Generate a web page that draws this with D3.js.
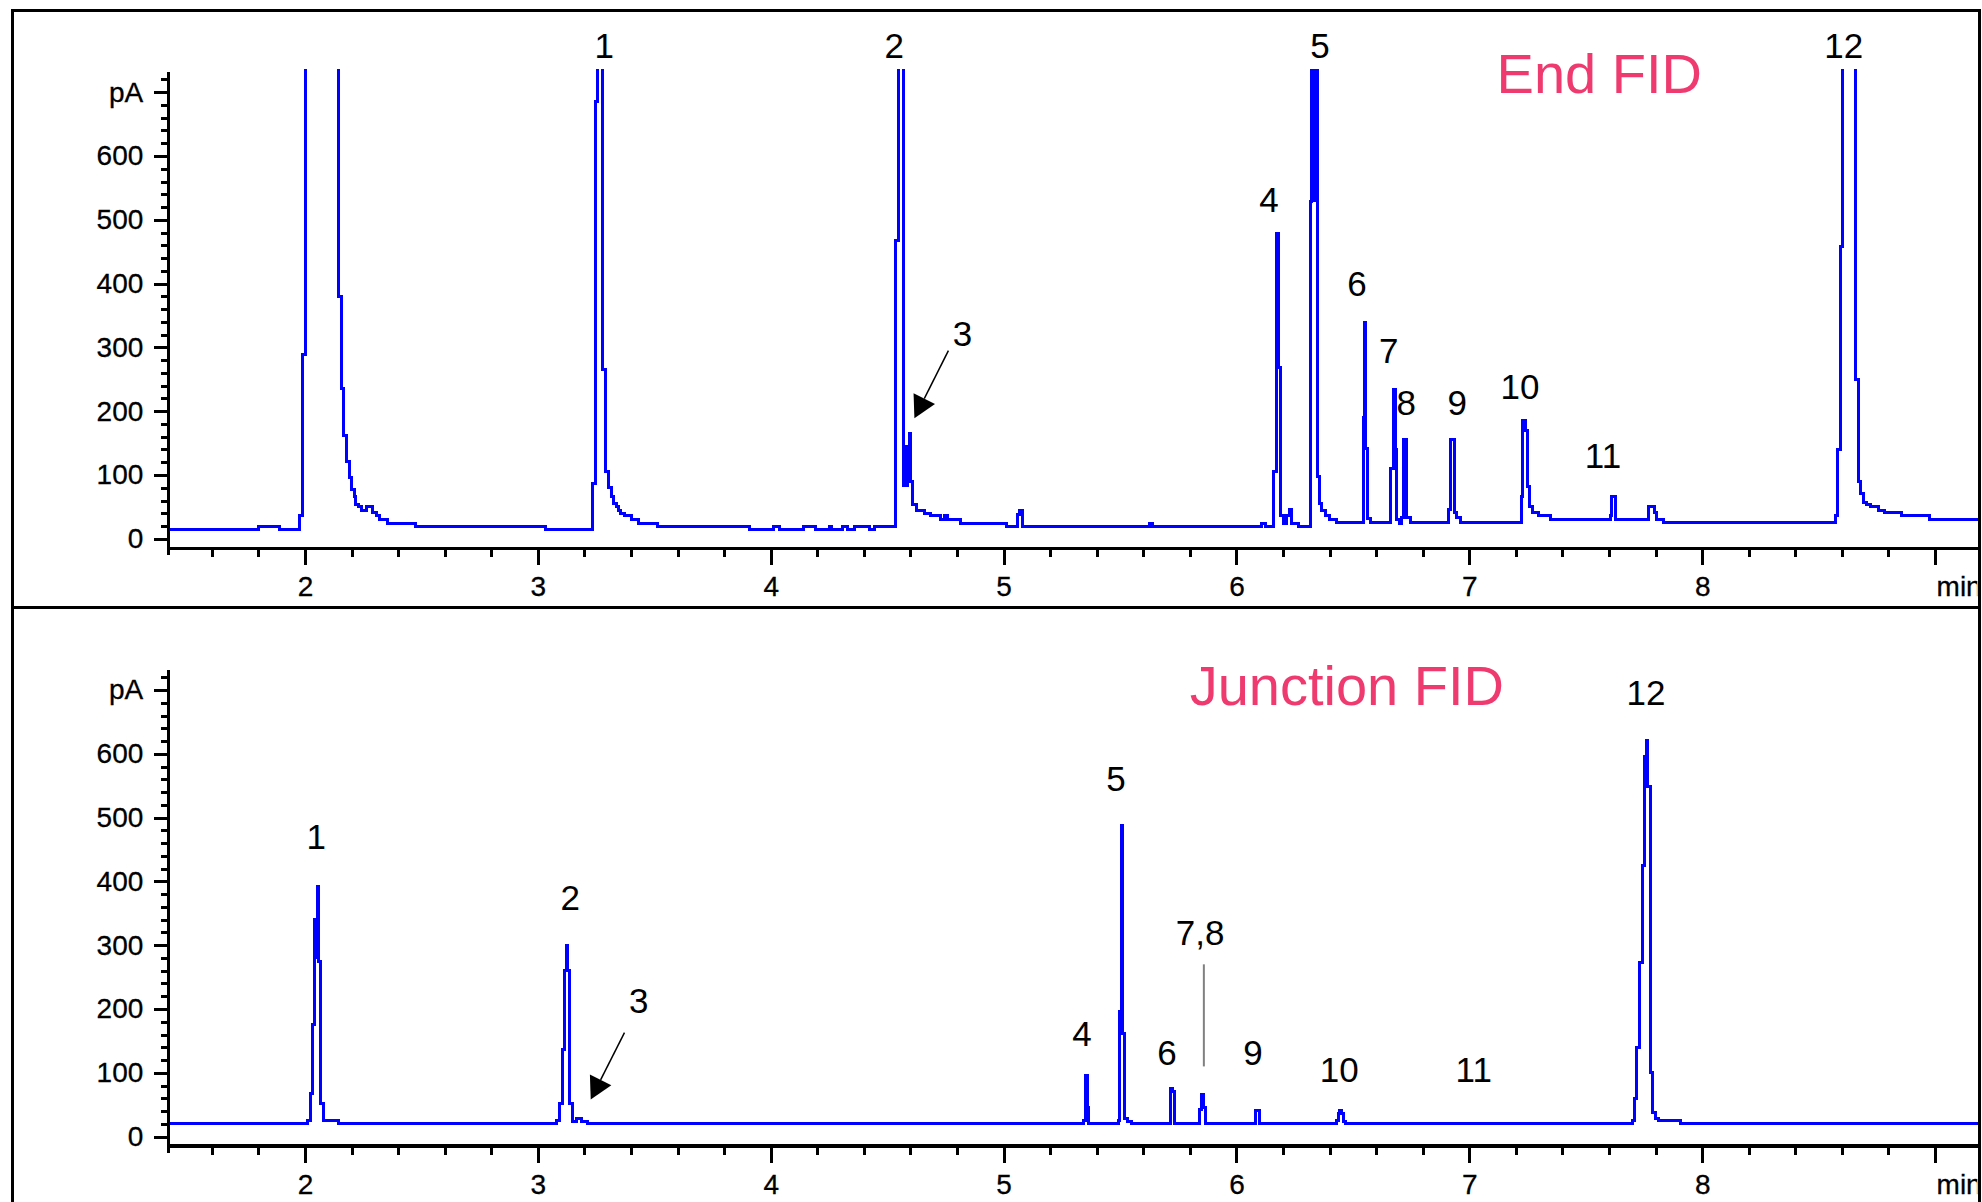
<!DOCTYPE html>
<html>
<head>
<meta charset="utf-8">
<script src="https://cdn.jsdelivr.net/npm/d3@7"></script>
<style>
  html, body { margin: 0; padding: 0; background: #fff; }
  svg { display: block; }
</style>
</head>
<body>
<svg id="chart" width="1982" height="1202"></svg>
<script>
// ---- End FID trace: retention time (min) at which each sampled level starts, and its signal (pA)
const endFidTime = [1.413,1.800,1.890,1.976,1.989,2.003,2.146,2.158,2.167,2.179,2.192,2.199,2.211,2.219,2.231,2.244,2.262,2.291,2.308,2.322,2.354,2.473,3.031,3.234,3.246,3.257,3.279,3.292,3.303,3.315,3.325,3.336,3.346,3.356,3.370,3.403,3.432,3.513,3.908,4.013,4.038,4.141,4.192,4.253,4.262,4.307,4.328,4.358,4.425,4.444,4.537,4.548,4.570,4.576,4.582,4.588,4.594,4.602,4.608,4.627,4.660,4.685,4.727,4.745,4.758,4.813,5.014,5.060,5.068,5.081,5.626,5.640,6.106,6.126,6.159,6.174,6.182,6.191,6.202,6.217,6.226,6.238,6.267,6.317,6.322,6.331,6.333,6.341,6.343,6.348,6.357,6.367,6.381,6.400,6.428,6.545,6.551,6.556,6.564,6.574,6.663,6.674,6.682,6.689,6.699,6.710,6.717,6.732,6.746,6.911,6.921,6.935,6.947,6.961,7.223,7.230,7.240,7.250,7.257,7.271,7.297,7.347,7.605,7.612,7.628,7.770,7.794,7.804,7.835,8.571,8.579,8.593,8.604,8.657,8.671,8.681,8.692,8.707,8.724,8.757,8.785,8.857,8.976,9.190];
const endFidSignal = [15,20,15,37,289,2600,379,235,162,121,96,77,66,54,50,45,50,42,36,30,24,19,15,86,686,1900,265,105,80,66,56,50,45,40,36,30,24,20,14,19,14,19,14,19,14,19,14,19,14,19,468,2100,83,144,83,144,165,90,54,45,40,36,30,36,30,24,20,38,45,20,24,20,24,20,105,478,269,37,24,37,46,24,20,528,2300,530,2300,530,2300,97,56,45,36,30,25,190,339,141,32,25,110,234,140,30,24,33,156,33,25,46,156,41,33,25,67,186,170,82,51,42,37,30,37,66,30,50,41,30,25,37,140,458,2700,250,90,71,57,53,50,45,41,36,30,30];

// ---- Junction FID trace
const junctionFidTime = [1.413,2.012,2.022,2.033,2.040,2.046,2.051,2.055,2.060,2.068,2.079,2.143,3.081,3.091,3.104,3.113,3.122,3.127,3.138,3.147,3.167,3.188,3.212,5.343,5.352,5.359,5.365,5.493,5.497,5.506,5.510,5.520,5.533,5.551,5.717,5.727,5.736,5.840,5.850,5.858,5.866,6.082,6.100,6.431,6.437,6.444,6.451,6.458,6.467,7.702,7.711,7.720,7.729,7.742,7.751,7.759,7.767,7.778,7.787,7.800,7.814,7.908,9.190];
const junctionFidSignal = [20,25,67,176,340,280,340,392,274,52,26,20,25,52,136,260,299,260,52,24,29,24,20,25,96,46,20,25,196,488,161,29,24,20,75,71,20,43,66,46,20,41,20,25,36,41,36,24,20,25,60,140,273,425,595,621,548,101,37,29,25,20,20];

// ---- Axes
const yTickValues = [0, 100, 200, 300, 400, 500, 600, 700];
const yTickLabels = ["0", "100", "200", "300", "400", "500", "600", "pA"];
const xTickValues = [2, 3, 4, 5, 6, 7, 8, 9];
const xTickLabels = ["2", "3", "4", "5", "6", "7", "8", "min"];

// ---- Peak numbers (label centre: time, baseline signal level)
const endPeakNames = ["1", "2", "3", "4", "5", "6", "7", "8", "9", "10", "11", "12"];
const endPeakLabelTime = [3.285, 4.530, 4.824, 6.140, 6.359, 6.518, 6.654, 6.729, 6.948, 7.218, 7.574, 8.608];
const endPeakLabelSignal = [754, 754, 302, 513, 754, 380, 275, 194, 194, 219, 111, 754];

const junctionPeakNames = ["1", "2", "3", "4", "5", "6", "7,8", "9", "10", "11", "12"];
const junctionPeakLabelTime = [2.048, 3.139, 3.433, 5.337, 5.483, 5.702, 5.844, 6.071, 6.441, 7.019, 7.759];
const junctionPeakLabelSignal = [451, 355, 194, 142, 542, 113, 300, 113, 86, 86, 676];

// ---- Pointers: arrow to peak 3 (from, tip) and the leader for the co-eluting 7,8 pair
const endArrow = [[4.763, 295], [4.617, 189]];
const junctionArrow = [[3.372, 163], [3.227, 58]];
const junctionLeader = [[5.860, 270], [5.860, 110]];

// ---- Detector titles
const panelTitles = ["End FID", "Junction FID"];
const titleTime = [7.117, 5.799];
const titleSignal = [699, 676];

// ---------------------------------------------------------------------------
const svg = d3.select("#chart");
const W = 1982, H = 1202;
const frameLeft = 12, frameRight = 1979.3;
const plotLeft = 168.3;
const panelTops = [10, 607.8];
const zeroFromTop = 528.8;   // distance from panel top to the 0 pA level
const pxPer700 = 446.6;

const TRACE = "#0000ff";
const TITLE = "#ee3a6e";
const TICK_FONT = "'Liberation Sans', Arial, sans-serif";
const TICK_SIZE = "28px";

const x = d3.scaleLinear().domain([1.413, 9.19]).range([plotLeft, frameRight]);

svg.append("rect").attr("width", W).attr("height", H).attr("fill", "#fff");

const panels = [
  { time: endFidTime, signal: endFidSignal, names: endPeakNames, lt: endPeakLabelTime, lv: endPeakLabelSignal,
    arrow: endArrow, leader: null, title: panelTitles[0], tt: titleTime[0], tv: titleSignal[0] },
  { time: junctionFidTime, signal: junctionFidSignal, names: junctionPeakNames, lt: junctionPeakLabelTime, lv: junctionPeakLabelSignal,
    arrow: junctionArrow, leader: junctionLeader, title: panelTitles[1], tt: titleTime[1], tv: titleSignal[1] }
];

panels.forEach((p, i) => {
  const top = panelTops[i];
  const zeroY = top + zeroFromTop;
  const y = d3.scaleLinear().domain([0, 700]).range([zeroY, zeroY - pxPer700]);
  const g = svg.append("g");

  // clip region for the trace: plot area below the upper limit
  const clipId = "clip" + i;
  svg.append("clipPath").attr("id", clipId)
    .append("rect")
    .attr("x", plotLeft).attr("y", zeroY - 469.8)
    .attr("width", frameRight - plotLeft).attr("height", 469.8 + 9);

  const axisY = zeroY + 9.4;

  // trace
  const pts = p.time.map((t, k) => [t, p.signal[k]]);
  const line = d3.line().x(d => x(d[0])).y(d => y(d[1])).curve(d3.curveStepAfter);
  g.append("path")
    .attr("clip-path", `url(#${clipId})`)
    .attr("d", line(pts))
    .attr("fill", "none")
    .attr("stroke", TRACE)
    .attr("stroke-width", 3)
    .attr("stroke-linejoin", "miter")
    .attr("shape-rendering", "crispEdges");

  // y axis: minor ticks every 20 pA, labelled major ticks every 100
  const yMinor = d3.range(0, 721, 20).filter(v => v % 100 !== 0);
  const yMinorAxis = d3.axisLeft(y).tickValues(yMinor).tickSize(7).tickFormat("");
  const yMajorAxis = d3.axisLeft(y).tickValues(yTickValues).tickSize(14).tickPadding(11)
    .tickFormat((d, k) => yTickLabels[k]);
  [yMinorAxis, yMajorAxis].forEach(ax => {
    const a = g.append("g").attr("transform", `translate(${plotLeft},0)`).call(ax);
    a.select(".domain").remove();
    a.selectAll(".tick line").attr("stroke", "#000").attr("stroke-width", 3).attr("shape-rendering", "crispEdges");
    a.selectAll(".tick text").attr("fill", "#000").attr("stroke", "#000").attr("stroke-width", 0.3)
      .style("font-family", TICK_FONT).style("font-size", TICK_SIZE);
  });
  g.append("line")
    .attr("x1", plotLeft).attr("x2", plotLeft)
    .attr("y1", zeroY - 466.7).attr("y2", axisY + 7)
    .attr("stroke", "#000").attr("stroke-width", 3.2).attr("shape-rendering", "crispEdges");

  // x axis: minor ticks every 0.2 min; the last label is cut by the frame
  const xMinor = d3.range(1.6, 9.1, 0.2).map(v => +v.toFixed(1)).filter(v => Math.abs(v - Math.round(v)) > 1e-6);
  const xMinorAxis = d3.axisBottom(x).tickValues(xMinor).tickSize(9).tickFormat("");
  const xMajorAxis = d3.axisBottom(x).tickValues(xTickValues).tickSize(17).tickPadding(11)
    .tickFormat((d, k) => xTickLabels[k]);
  const labelClip = "lclip" + i;
  svg.append("clipPath").attr("id", labelClip)
    .append("rect").attr("x", 0).attr("y", top).attr("width", frameRight - 2).attr("height", 700);
  [xMinorAxis, xMajorAxis].forEach(ax => {
    const outer = g.append("g").attr("clip-path", `url(#${labelClip})`);
    const a = outer.append("g").attr("transform", `translate(0,${axisY})`).call(ax);
    a.select(".domain").remove();
    a.selectAll(".tick line").attr("stroke", "#000").attr("stroke-width", 3).attr("shape-rendering", "crispEdges");
    a.selectAll(".tick text").attr("fill", "#000").attr("stroke", "#000").attr("stroke-width", 0.3)
      .style("font-family", TICK_FONT).style("font-size", TICK_SIZE)
      .attr("text-anchor", (d, k) => xTickLabels[k] === "min" ? "start" : "middle")
      .attr("dx", (d, k) => xTickLabels[k] === "min" ? 1 : 0);
  });
  g.append("line")
    .attr("x1", plotLeft).attr("x2", frameRight)
    .attr("y1", axisY).attr("y2", axisY)
    .attr("stroke", "#000").attr("stroke-width", 3.3).attr("shape-rendering", "crispEdges");

  // peak numbers
  g.selectAll("text.peak").data(p.names).enter().append("text")
    .attr("class", "peak")
    .attr("x", (d, k) => x(p.lt[k]))
    .attr("y", (d, k) => y(p.lv[k]))
    .attr("text-anchor", "middle")
    .attr("fill", "#000")
    .style("font-family", "'Liberation Sans', Arial, sans-serif")
    .style("font-size", "35px")
    .text(d => d);

  // arrow to peak 3
  const [from, to] = p.arrow;
  const fx = x(from[0]), fy = y(from[1]), tx = x(to[0]), ty = y(to[1]);
  const len = Math.hypot(tx - fx, ty - fy);
  const ux = (tx - fx) / len, uy = (ty - fy) / len;
  const headLen = 22, headHalf = 12;
  const bx = tx - ux * headLen, by = ty - uy * headLen;
  g.append("line").attr("x1", fx).attr("y1", fy).attr("x2", bx).attr("y2", by)
    .attr("stroke", "#000").attr("stroke-width", 1.5);
  g.append("polygon")
    .attr("points", [[tx, ty], [bx - uy * headHalf, by + ux * headHalf], [bx + uy * headHalf, by - ux * headHalf]].map(q => q.join(",")).join(" "))
    .attr("fill", "#000");

  // leader line for the 7,8 pair
  if (p.leader) {
    g.append("line")
      .attr("x1", x(p.leader[0][0])).attr("y1", y(p.leader[0][1]))
      .attr("x2", x(p.leader[1][0])).attr("y2", y(p.leader[1][1]))
      .attr("stroke", "#808080").attr("stroke-width", 2);
  }

  // detector title
  g.append("text")
    .attr("x", x(p.tt)).attr("y", y(p.tv))
    .attr("fill", TITLE)
    .style("font-family", "'Liberation Sans', Arial, sans-serif")
    .style("font-size", "56px")
    .text(p.title);

  // panel frame
  const bottom = i === 0 ? panelTops[1] : H + 20;
  svg.append("rect")
    .attr("x", frameLeft).attr("y", top)
    .attr("width", frameRight - frameLeft).attr("height", bottom - top)
    .attr("fill", "none").attr("stroke", "#000").attr("stroke-width", 3)
    .attr("shape-rendering", "crispEdges");
});
</script>
</body>
</html>
